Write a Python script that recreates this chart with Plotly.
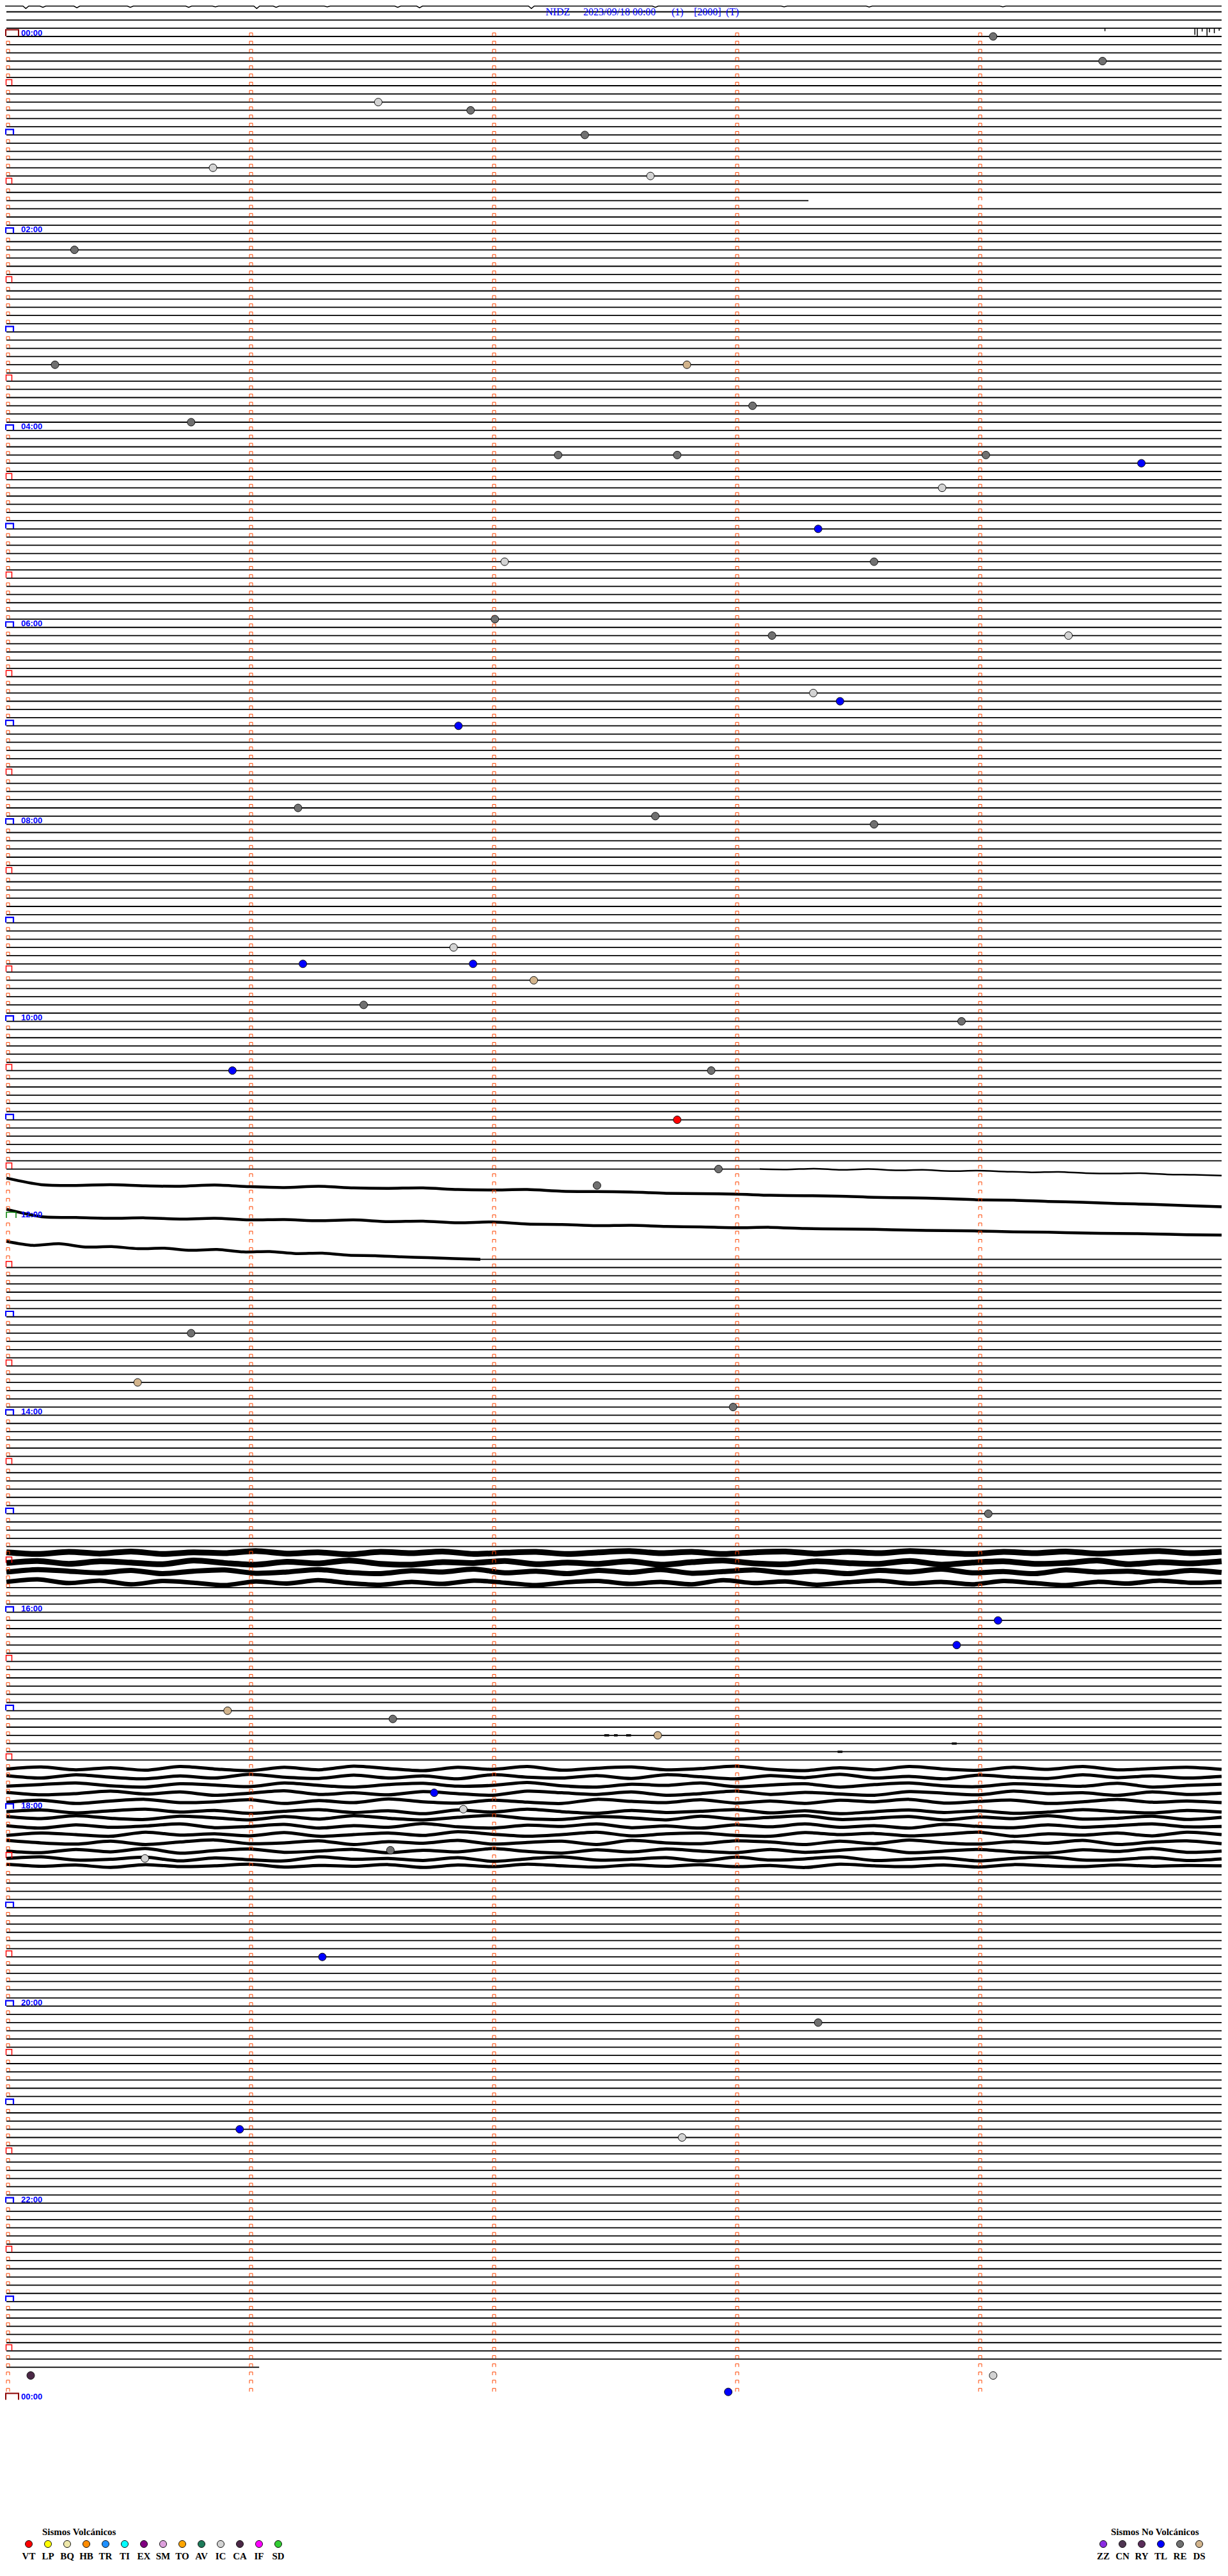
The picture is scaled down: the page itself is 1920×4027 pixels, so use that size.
import plotly.graph_objects as go

# ---------------- page geometry (page pixels; the html body adds an 8 px margin) ----------------
BODY = 8
FIG_W, FIG_H = 1920 - 2 * BODY, 4027 - 2 * BODY
PLOT_BOTTOM = 3808      # page px where trace area ends
ROW_PX = 12.83          # px per 5-minute row
ROW0_Y = 57.0           # page px of 00:00 baseline
X0 = 10.0               # page px of minute 0
MIN_PX = 380.0          # px per minute
TOP_ROW_Y = 9.5         # page px where the previous-day top row is drawn

# ---------------- data ----------------
title_parts = ["NIDZ", "2023/09/18 00:00", "(1)", "[2000]", "(T)"]
title_left_px = [852, 911, 1049, 1084, 1134]

n_rows = 288
previous_rows = [-4, -3, -2, -1]
last_data_row = 284
minute_marks = [0, 1, 2, 3, 4]
hour_label_rows = [0, 24, 48, 72, 96, 120, 144, 168, 192, 216, 240, 264, 288]
hour_labels = ["00:00", "02:00", "04:00", "06:00", "08:00", "10:00", "12:00",
               "14:00", "16:00", "18:00", "20:00", "22:00", "00:00"]

# rows without a flat trace (noisy / no data)
empty_rows = [-4] + list(range(139, 149)) + [185, 186, 187, 188] + list(range(211, 224))
# rows whose flat trace covers only part of the 5 minutes
seg_rows = [20, 138, 149, 284]
seg_start = [0.0, 0.0, 1.95, 0.0]
seg_end = [3.30, 3.10, 5.0, 1.04]

# previous-day top row: small dips (minute, depth in rows)
top_dip_min = [0.08, 0.15, 0.29, 0.51, 0.75, 0.86, 1.03, 1.11, 1.32, 1.61, 1.70, 2.16, 2.67, 3.20, 3.55, 4.10]
top_dip_depth = [0.3, 0.15, 0.2, 0.15, 0.15, 0.1, 0.3, 0.15, 0.1, 0.15, 0.2, 0.3, 0.15, 0.1, 0.12, 0.1]
# spikes hanging from row -1 near the right edge (minute, depth in rows)
spike_min = [4.52, 4.89, 4.90, 4.92, 4.94, 4.95, 4.97, 4.99]
spike_depth = [0.35, 0.8, 1.0, 0.4, 0.9, 0.5, 0.6, 0.3]
# short noise bursts on quiet rows (row, minute, length in minutes)
burst_row = [207, 207, 207, 208, 209]
burst_min = [2.46, 2.50, 2.55, 3.89, 3.42]
burst_len = [0.02, 0.015, 0.02, 0.02, 0.02]

# noisy traces (offsets in row units, + = downward)
r138_tail = [0.0, 0.05, -0.05, 0.1, 0.0, 0.15, 0.1, 0.25, 0.2, 0.3, 0.4, 0.35, 0.5, 0.55, 0.5, 0.65, 0.7, 0.8]
rA1 = [-0.9, -0.1, 0.0, -0.1, 0.05, 0.1, -0.05, 0.15, 0.25, 0.1, 0.3, 0.35, 0.3, 0.5, 0.55, 0.5, 0.7, 0.75,
       0.8, 0.95, 1.0, 1.05, 1.2, 1.25, 1.3, 1.45, 1.5, 1.6, 1.75, 1.8, 1.95, 2.05, 2.2, 2.3, 2.45, 2.6]
rA2 = [-1.1, -0.2, -0.1, 0.0, -0.05, 0.1, 0.0, 0.2, 0.15, 0.3, 0.2, 0.4, 0.35, 0.55, 0.45, 0.7, 0.75, 0.9,
       0.85, 1.0, 1.05, 1.15, 1.1, 1.25, 1.3, 1.35, 1.45, 1.5, 1.55, 1.65, 1.7, 1.8, 1.85, 1.9, 2.0, 2.05]
rA3 = [-2.2, -1.7, -1.9, -1.5, -1.55, -1.3, -1.35, -1.1, -1.2, -0.9, -0.95, -0.7, -0.75, -0.5, -0.45, -0.3, -0.2, -0.1, 0.0]
b185 = [-0.3, -0.1, -0.35, -0.15, -0.4, -0.1, -0.3, -0.2, -0.45, -0.15, -0.3, -0.05, -0.35, -0.2, -0.4, -0.1, -0.25, -0.35, -0.1, -0.3,
        -0.45, -0.2, -0.35, -0.1, -0.3, -0.4, -0.15, -0.35, -0.2, -0.45, -0.25, -0.1, -0.35, -0.2, -0.4, -0.15, -0.3, -0.45, -0.2, -0.35]
b186 = [0.0, -0.25, 0.1, -0.2, -0.05, 0.15, -0.3, 0.0, 0.2, -0.15, 0.05, -0.3, 0.1, 0.2, -0.1, 0.0, -0.25, 0.15, -0.05, 0.1,
        -0.2, 0.2, -0.1, -0.3, 0.05, 0.15, -0.2, 0.0, 0.1, -0.25, 0.2, -0.05, -0.2, 0.1, 0.0, -0.3, 0.15, -0.1, 0.05, -0.2]
b187 = [0.1, -0.2, 0.0, 0.2, -0.1, 0.3, 0.0, -0.15, 0.25, 0.1, -0.2, 0.15, 0.3, -0.05, 0.1, -0.25, 0.2, 0.0, 0.3, -0.1,
        0.15, -0.2, 0.25, 0.05, -0.15, 0.2, 0.0, 0.3, -0.1, 0.1, -0.25, 0.2, 0.05, 0.3, -0.15, 0.1, 0.0, 0.25, -0.1, 0.15]
b188 = [0.3, 0.0, 0.45, 0.15, 0.6, 0.2, 0.4, 0.7, 0.25, 0.5, 0.1, 0.45, 0.65, 0.3, 0.55, 0.15, 0.4, 0.7, 0.35, 0.2,
        0.55, 0.3, 0.6, 0.1, 0.45, 0.25, 0.65, 0.35, 0.15, 0.5, 0.3, 0.6, 0.2, 0.45, 0.7, 0.3, 0.5, 0.15, 0.4, 0.3]
c211 = [0.1, -0.15, 0.2, -0.05, 0.25, -0.2, 0.1, 0.3, -0.1, 0.2, -0.25, 0.05, 0.3, -0.1, 0.15, -0.2, 0.25, 0.0, -0.15, 0.2, 0.05, -0.25, 0.15, 0.3, -0.05, 0.2, -0.2, 0.1, 0.25, -0.1, 0.15, -0.2, 0.2, 0.05, -0.1, 0.15]
c212 = [-0.1, 0.2, -0.2, 0.1, 0.3, -0.05, 0.2, -0.25, 0.1, 0.25, -0.15, 0.2, -0.05, 0.3, -0.2, 0.1, 0.2, -0.1, 0.25, -0.2, 0.05, 0.3, -0.1, 0.15, -0.25, 0.2, 0.0, 0.3, -0.15, 0.1, 0.25, -0.2, 0.15, -0.05, 0.2, 0.0]
c213 = [0.2, 0.0, -0.2, 0.15, 0.3, -0.1, 0.05, 0.25, -0.2, 0.1, 0.3, 0.0, -0.15, 0.2, 0.1, -0.25, 0.15, 0.3, -0.05, 0.1, -0.2, 0.25, 0.05, -0.1, 0.3, 0.0, -0.2, 0.15, 0.25, -0.1, 0.05, 0.2, -0.15, 0.3, 0.1, -0.05]
c214 = [-0.05, 0.25, 0.1, -0.2, 0.15, -0.1, 0.3, 0.05, -0.25, 0.2, 0.0, 0.25, -0.15, 0.1, 0.3, -0.2, 0.0, 0.2, -0.1, 0.3, 0.1, -0.2, 0.2, -0.05, 0.15, 0.3, -0.15, 0.05, 0.25, -0.2, 0.1, 0.0, 0.3, -0.1, 0.2, 0.05]
c215 = [0.15, -0.1, 0.3, 0.0, -0.2, 0.2, 0.1, -0.15, 0.3, -0.05, 0.2, -0.25, 0.1, 0.25, -0.1, 0.15, 0.3, -0.2, 0.05, 0.2, -0.15, 0.25, 0.0, 0.3, -0.1, 0.1, -0.2, 0.25, 0.05, -0.1, 0.3, 0.1, -0.2, 0.15, 0.0, 0.2]
c216 = [0.3, 0.1, 0.45, 0.2, 0.0, 0.35, 0.15, 0.5, 0.25, 0.05, 0.4, 0.2, 0.55, 0.1, 0.35, 0.0, 0.3, 0.5, 0.15, 0.4, 0.25, 0.05, 0.45, 0.2, 0.55, 0.3, 0.1, 0.4, 0.2, 0.5, 0.35, 0.05, 0.3, 0.45, 0.15, 0.35]
c217 = [-0.1, 0.15, -0.2, 0.1, 0.25, -0.15, 0.05, 0.3, -0.1, 0.2, -0.2, 0.1, 0.3, 0.0, -0.25, 0.15, 0.25, -0.1, 0.05, 0.3, -0.15, 0.2, 0.0, -0.2, 0.25, 0.1, -0.1, 0.3, -0.05, 0.15, -0.2, 0.2, 0.1, -0.15, 0.25, 0.0]
c218 = [0.0, 0.3, -0.1, 0.2, 0.05, -0.2, 0.25, 0.1, -0.15, 0.3, 0.0, 0.2, -0.25, 0.15, 0.3, -0.05, 0.1, -0.2, 0.25, 0.05, 0.3, -0.1, 0.15, -0.2, 0.2, 0.0, 0.3, -0.15, 0.1, 0.25, -0.1, 0.2, 0.0, -0.2, 0.15, 0.1]
c219 = [0.2, -0.1, 0.1, 0.3, -0.2, 0.15, 0.0, 0.25, -0.15, 0.3, 0.1, -0.1, 0.2, -0.25, 0.05, 0.3, 0.1, -0.2, 0.25, 0.0, -0.1, 0.2, 0.3, -0.15, 0.1, -0.05, 0.25, 0.05, -0.2, 0.3, 0.0, 0.15, -0.1, 0.25, -0.2, 0.1]
c220 = [-0.2, 0.1, 0.25, -0.1, 0.3, 0.0, -0.25, 0.2, 0.1, -0.15, 0.3, -0.05, 0.15, -0.2, 0.25, 0.05, -0.1, 0.3, -0.2, 0.1, 0.2, -0.15, 0.0, 0.3, -0.1, 0.2, -0.25, 0.1, 0.25, -0.05, 0.15, -0.2, 0.3, 0.0, -0.15, 0.2]
c221 = [0.1, 0.3, -0.1, 0.2, -0.2, 0.35, 0.05, -0.15, 0.25, 0.1, -0.1, 0.3, 0.0, 0.2, -0.2, 0.15, 0.35, -0.05, 0.2, -0.15, 0.1, 0.3, -0.1, 0.25, 0.0, -0.2, 0.3, 0.1, -0.1, 0.2, 0.35, -0.05, 0.15, -0.2, 0.25, 0.1]
c222 = [0.0, -0.2, 0.2, 0.1, -0.15, 0.3, -0.05, 0.15, 0.3, -0.2, 0.1, 0.0, 0.25, -0.1, 0.35, 0.05, -0.2, 0.2, 0.1, -0.1, 0.3, -0.15, 0.2, 0.05, -0.2, 0.25, 0.1, -0.05, 0.3, 0.0, -0.2, 0.2, 0.15, -0.1, 0.25, 0.05]
c223 = [-0.3, -0.05, -0.2, 0.1, -0.25, 0.0, -0.1, -0.3, 0.05, -0.15, -0.05, -0.25, 0.1, -0.2, 0.0, -0.3, -0.1, 0.05, -0.2, -0.05, -0.25, 0.0, -0.15, 0.1, -0.3, -0.1, 0.0, -0.2, 0.05, -0.25, -0.1, 0.0, -0.2, -0.05, -0.15, -0.1]

noisy_rows = [138, 140, 144, 149, 185, 186, 187, 188,
              211, 212, 213, 214, 215, 216, 217, 218, 219, 220, 221, 222, 223]
noisy_start = [3.1, 0.0, 0.0, 0.0] + [0.0] * 4 + [0.0] * 13
noisy_end = [5.0, 5.0, 5.0, 1.95] + [5.0] * 4 + [5.0] * 13
noisy_width = [2.5, 4.5, 4.5, 4.5] + [9, 9, 8, 7] + [5] * 13
noisy_offsets = [r138_tail, rA1, rA2, rA3, b185, b186, b187, b188,
                 c211, c212, c213, c214, c215, c216, c217, c218, c219, c220, c221, c222, c223]

# event markers: type, row (5-min row index), minute within row
ev_type = ["RE", "RE", "IC", "RE", "RE", "IC", "IC", "RE", "RE", "DS", "RE", "RE", "RE", "RE", "RE", "TL", "IC", "TL",
           "RE", "IC", "RE", "IC", "RE", "IC", "TL", "TL", "RE", "RE", "RE", "IC", "TL", "TL", "DS", "RE", "RE", "TL",
           "RE", "VT", "RE", "RE", "RE", "DS", "RE", "RE", "TL", "TL", "DS", "RE", "DS", "TL", "IC", "RE", "IC", "TL",
           "RE", "TL", "IC", "CA", "IC", "TL"]
ev_row = [0, 3, 8, 9, 12, 16, 17, 26, 40, 40, 45, 47, 51, 51, 51, 52, 55, 60,
          64, 64, 71, 73, 73, 80, 81, 84, 94, 95, 96, 111, 113, 113, 115, 118, 120, 126,
          126, 132, 138, 140, 158, 164, 167, 180, 193, 196, 204, 205, 207, 214, 216, 221, 222, 234,
          242, 255, 256, 285, 285, 287]
ev_min = [4.06, 4.51, 1.53, 1.91, 2.38, 0.85, 2.65, 0.28, 0.20, 2.80, 3.07, 0.76, 2.27, 2.76, 4.03, 4.67, 3.85, 3.34,
          3.57, 2.05, 2.01, 4.37, 3.15, 3.32, 3.43, 1.86, 1.20, 2.67, 3.57, 1.84, 1.22, 1.92, 2.17, 1.47, 3.93, 0.93,
          2.90, 2.76, 2.93, 2.43, 0.76, 0.54, 2.99, 4.04, 4.08, 3.91, 0.91, 1.59, 2.68, 1.76, 1.88, 1.58, 0.57, 1.30,
          3.34, 0.96, 2.78, 0.10, 4.06, 2.97]

volc_codes = ["VT", "LP", "BQ", "HB", "TR", "TI", "EX", "SM", "TO", "AV", "IC", "CA", "IF", "SD"]
volc_colors = ["#FF0000", "#FFFF00", "#EEE8AA", "#FF8C00", "#1E90FF", "#00FFFF", "#800080",
               "#DDA0DD", "#FFA500", "#1E7B5A", "#D3D3D3", "#4B2846", "#FF00FF", "#32CD32"]
nonvolc_codes = ["ZZ", "CN", "RY", "TL", "RE", "DS"]
nonvolc_colors = ["#8A2BE2", "#4F3552", "#5A2D5A", "#0000FF", "#707070", "#D2B48C"]

# ---------------- helpers ----------------
def xd(px):
    return (px - X0) / MIN_PX

def dx(px):
    return px / MIN_PX

def dy(px):
    return px / ROW_PX

def yd(px):
    return (px - ROW0_Y) / ROW_PX

fig = go.Figure()

# ---------- flat traces ----------
fx, fy = [], []
for r in previous_rows + list(range(0, last_data_row + 1)):
    if r in empty_rows:
        continue
    if r in seg_rows:
        i = seg_rows.index(r)
        a, b = seg_start[i], seg_end[i]
    else:
        a, b = 0.0, 5.0
    fx += [a, b, None]
    fy += [r, r, None]
fig.add_trace(go.Scatter(x=fx, y=fy, mode="lines", line=dict(color="black", width=1.8),
                         hoverinfo="skip", showlegend=False))

# previous-day top row with its dips
top_base = yd(TOP_ROW_Y)
tx, ty = [xd(0)], [top_base]
for m, d in zip(top_dip_min, top_dip_depth):
    tx += [m - 0.012, m, m + 0.012]
    ty += [top_base, top_base + d, top_base]
tx.append(5.0)
ty.append(top_base)
fig.add_trace(go.Scatter(x=tx, y=ty, mode="lines", line=dict(color="black", width=1.5),
                         hoverinfo="skip", showlegend=False))

# spikes and short bursts
sx, sy = [], []
for m, d in zip(spike_min, spike_depth):
    sx += [m, m, None]
    sy += [-1, -1 + d, None]
fig.add_trace(go.Scatter(x=sx, y=sy, mode="lines", line=dict(color="black", width=1.5),
                         hoverinfo="skip", showlegend=False))
ux, uy = [], []
for r, m, ln in zip(burst_row, burst_min, burst_len):
    ux += [m, m + ln, None]
    uy += [r, r, None]
fig.add_trace(go.Scatter(x=ux, y=uy, mode="lines", line=dict(color="black", width=3.5),
                         hoverinfo="skip", showlegend=False))

# ---------- noisy traces ----------
for r, a, b, w, offs in zip(noisy_rows, noisy_start, noisy_end, noisy_width, noisy_offsets):
    n = len(offs)
    xs = [a + (b - a) * i / (n - 1) for i in range(n)]
    ys = [r + o for o in offs]
    fig.add_trace(go.Scatter(x=xs, y=ys, mode="lines",
                             line=dict(color="black", width=w, shape="spline", smoothing=0.8),
                             hoverinfo="skip", showlegend=False))

# ---------- time brackets ----------
def bracket(xs, ys, m_left, row, w_px, h_px, lift_px=0.5):
    x0 = m_left
    x1 = m_left + dx(w_px)
    yb = row - dy(lift_px)
    yt = row - dy(h_px + lift_px)
    xs += [x0, x0, x1, x1, None]
    ys += [yb, yt, yt, yb, None]

ox, oy = [], []
for r in range(0, n_rows):
    for k in minute_marks:
        if k == 0 and r % 6 == 0:
            continue
        bracket(ox, oy, k, r, 5, 5)
fig.add_trace(go.Scatter(x=ox, y=oy, mode="lines", line=dict(color="#FF4500", width=1),
                         hoverinfo="skip", showlegend=False))

bx, by = [], []
rx, ry = [], []
for r in range(0, n_rows + 1):
    if r % 12 == 0 and r not in (0, 144, n_rows):
        bracket(bx, by, xd(9), r, 12, 8)
    elif r % 12 == 6:
        bracket(rx, ry, xd(9.5), r, 9, 9)
fig.add_trace(go.Scatter(x=bx, y=by, mode="lines", line=dict(color="#0000FF", width=2.2),
                         hoverinfo="skip", showlegend=False))
fig.add_trace(go.Scatter(x=rx, y=ry, mode="lines", line=dict(color="#FF0000", width=1.5),
                         hoverinfo="skip", showlegend=False))

kx, ky = [], []
for r in (0, n_rows):
    bracket(kx, ky, xd(9), r, 20, 10)
fig.add_trace(go.Scatter(x=kx, y=ky, mode="lines", line=dict(color="#8B0000", width=2),
                         hoverinfo="skip", showlegend=False))
gx, gy = [], []
bracket(gx, gy, xd(10), 144, 15, 9)
fig.add_trace(go.Scatter(x=gx, y=gy, mode="lines", line=dict(color="#008000", width=1.5),
                         hoverinfo="skip", showlegend=False))

# ---------- events ----------
all_codes = volc_codes + nonvolc_codes
all_colors = volc_colors + nonvolc_colors
for code, col in zip(all_codes, all_colors):
    xs = [m for t, m in zip(ev_type, ev_min) if t == code]
    ys = [r for t, r in zip(ev_type, ev_row) if t == code]
    if not xs:
        continue
    fig.add_trace(go.Scatter(x=xs, y=ys, mode="markers",
                             marker=dict(size=12, color=col, line=dict(color="#111111", width=1)),
                             hoverinfo="skip", showlegend=False))

# ---------- legend (second subplot in page-pixel units) ----------
vx = [45 + 30 * i for i in range(len(volc_codes))]
nx = [1725 + 30 * i for i in range(len(nonvolc_codes))]
fig.add_trace(go.Scatter(x=vx + nx, y=[3977] * (len(vx) + len(nx)), mode="markers",
                         xaxis="x2", yaxis="y2",
                         marker=dict(size=11, color=volc_colors + nonvolc_colors,
                                     line=dict(color="#111111", width=1)),
                         hoverinfo="skip", showlegend=False))
fig.add_trace(go.Scatter(x=vx + nx, y=[3997] * (len(vx) + len(nx)), mode="text",
                         xaxis="x2", yaxis="y2",
                         text=["<b>%s</b>" % c for c in volc_codes + nonvolc_codes],
                         textfont=dict(family="Liberation Serif", size=15, color="black"),
                         hoverinfo="skip", showlegend=False))

annotations = []
annotations.append(dict(x=124, y=3958, xref="x2", yref="y2", text="<b>Sismos Volcánicos</b>",
                        showarrow=False, font=dict(family="Liberation Serif", size=15, color="black"),
                        xanchor="center", yanchor="middle"))
annotations.append(dict(x=1806, y=3958, xref="x2", yref="y2", text="<b>Sismos No Volcánicos</b>",
                        showarrow=False, font=dict(family="Liberation Serif", size=15, color="black"),
                        xanchor="center", yanchor="middle"))

# title (top-anchored just inside the figure)
for txt, px in zip(title_parts, title_left_px):
    annotations.append(dict(x=xd(px), y=yd(BODY + 0.5), xref="x", yref="y", text=txt, showarrow=False,
                            font=dict(family="Liberation Serif", size=16, color="#0000FF"),
                            xanchor="left", yanchor="top", borderpad=0))

# hour labels
for r, lab in zip(hour_label_rows, hour_labels):
    annotations.append(dict(x=xd(31), y=r - dy(6), xref="x", yref="y", text="<b>%s</b>" % lab,
                            showarrow=False,
                            font=dict(family="Liberation Sans", size=13, color="#0000FF"),
                            xanchor="left", yanchor="middle"))

plot_h = PLOT_BOTTOM - BODY
split = 1 - plot_h / FIG_H
fig.update_layout(
    width=FIG_W, height=FIG_H,
    margin=dict(l=0, r=0, t=0, b=0),
    paper_bgcolor="white", plot_bgcolor="white",
    showlegend=False,
    annotations=annotations,
    xaxis=dict(range=[xd(BODY), xd(BODY + FIG_W)], domain=[0, 1], visible=False, fixedrange=True),
    yaxis=dict(range=[yd(PLOT_BOTTOM), yd(BODY)], domain=[split, 1], visible=False, fixedrange=True),
    xaxis2=dict(range=[BODY, BODY + FIG_W], domain=[0, 1], visible=False, anchor="y2"),
    yaxis2=dict(range=[BODY + FIG_H, PLOT_BOTTOM], domain=[0, split], visible=False, anchor="x2"),
)

fig.write_html("out.html")
